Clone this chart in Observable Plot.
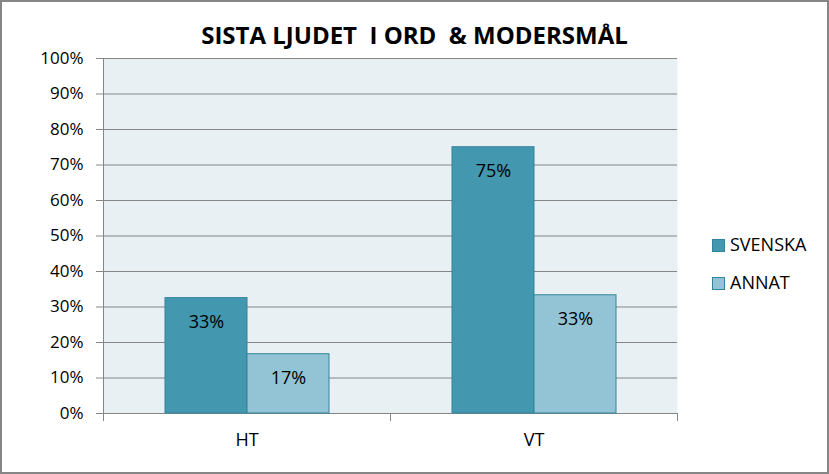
<!DOCTYPE html>
<html>
<head>
<meta charset="utf-8">
<script src="https://cdn.jsdelivr.net/npm/d3@7"></script>
<script src="https://cdn.jsdelivr.net/npm/@observablehq/plot@0.6"></script>
<style>
  html, body { margin: 0; padding: 0; background: #fff; }
  #wrap { position: relative; width: 829px; height: 474px; overflow: hidden; font-family: "Open Sans", sans-serif; }
  #border { position: absolute; left: 0; top: 0; width: 829px; height: 474px; box-sizing: border-box; border: 2px solid #868686; pointer-events: none; }
  #title { position: absolute; left: 0; width: 829px; top: 23px; text-align: center; font-size: 24px; line-height: 24px; font-weight: 700; white-space: pre; color: #000; }
  #chart { position: absolute; left: 0; top: 0; }
  .leg { position: absolute; left: 712px; font-size: 18px; line-height: 20px; color: #000; }
  .leg span.sw { position: absolute; left: 0; top: 3px; width: 11px; height: 11px; border: 1px solid #31849b; }
  .leg span.tx { position: absolute; left: 18px; top: -2px; white-space: nowrap; }
</style>
</head>
<body>
<div id="wrap">
  <div id="chart"></div>
  <div id="title"></div>
  <div id="legend"></div>
  <div id="border"></div>
</div>
<script>
const title = "SISTA LJUDET  I ORD  & MODERSMÅL";
const groups = ["HT", "VT"];
const series = ["SVENSKA", "ANNAT"];
const svenskaValues = [0.325, 0.75];
const annatValues = [0.167, 0.333];
const svenskaLabels = ["33%", "75%"];
const annatLabels = ["17%", "33%"];
const yTicks = [0, 0.1, 0.2, 0.3, 0.4, 0.5, 0.6, 0.7, 0.8, 0.9, 1.0];
const yTickLabels = ["0%", "10%", "20%", "30%", "40%", "50%", "60%", "70%", "80%", "90%", "100%"];
const colors = ["#4397ae", "#93c4d5"];

const data = [];
groups.forEach((g, i) => {
  data.push({group: g, series: series[0], value: svenskaValues[i], label: svenskaLabels[i]});
  data.push({group: g, series: series[1], value: annatValues[i], label: annatLabels[i]});
});

document.getElementById("title").textContent = title;

const axisColor = "#868686";
const plot = Plot.plot({
  width: 829,
  height: 474,
  marginLeft: 103,
  marginRight: 152,
  marginTop: 58,
  marginBottom: 61,
  style: {fontFamily: "'Open Sans', sans-serif", fontSize: "17px", color: "#000", background: "transparent"},
  fx: {domain: groups, padding: 0, label: null},
  x: {domain: series, paddingInner: 0, paddingOuter: 0.735, axis: null},
  y: {domain: [0, 1], axis: null},
  color: {domain: series, range: colors},
  marks: [
    Plot.frame({facet: "super", fill: "#e9f0f4", stroke: "none"}),
    Plot.gridY(yTicks, {stroke: axisColor, strokeOpacity: 1}),
    Plot.frame({facet: "super", anchor: "left", stroke: axisColor}),
    Plot.frame({anchor: "left", stroke: axisColor, insetTop: 355, insetBottom: -7}),
    Plot.frame({anchor: "right", stroke: axisColor, insetTop: 355, insetBottom: -7}),
    Plot.barY(data, {fx: "group", x: "series", y: "value", fill: "series", stroke: "#31849b", strokeWidth: 1}),
    Plot.text(data, {fx: "group", x: "series", y: "value", text: "label", dy: 24, fontSize: 18, fill: "#000"}),
    Plot.axisY(yTicks, {tickFormat: (d) => yTickLabels[yTicks.indexOf(d)], tickSize: 7, tickPadding: 13, stroke: axisColor, fill: "#000", label: null}),
    Plot.axisFx({anchor: "bottom", tickSize: 0, tickPadding: 20, fontSize: 18, fill: "#000", label: null})
  ]
});
document.getElementById("chart").appendChild(plot);

const legend = document.getElementById("legend");
const legendTops = [236, 274];
series.forEach((s, i) => {
  const row = document.createElement("div");
  row.className = "leg";
  row.style.top = legendTops[i] + "px";
  const sw = document.createElement("span");
  sw.className = "sw";
  sw.style.background = colors[i];
  const tx = document.createElement("span");
  tx.className = "tx";
  tx.textContent = s;
  row.appendChild(sw);
  row.appendChild(tx);
  legend.appendChild(row);
});
</script>
</body>
</html>
